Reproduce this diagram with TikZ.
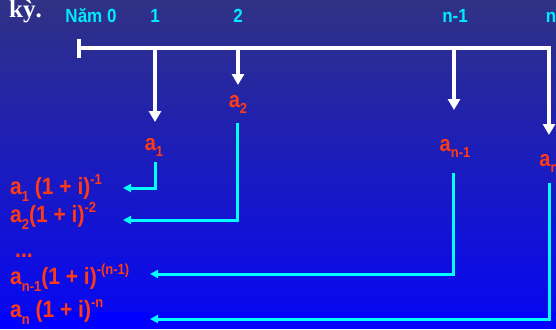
\documentclass[tikz,border=0pt]{standalone}
\usepackage{graphicx}
\usepackage{fontspec}
\setmainfont{Liberation Sans}
\newfontfamily\serifb{Liberation Serif}
\usetikzlibrary{arrows.meta}
\definecolor{bgtop}{RGB}{48,50,132}
\definecolor{bgbot}{RGB}{8,8,240}
\definecolor{lab}{RGB}{255,58,20}
\definecolor{cy}{RGB}{0,235,255}
\definecolor{ln}{RGB}{0,255,255}
\newcommand\sbt[1]{\raisebox{-0.3em}{\fontsize{13}{13}\selectfont #1}}
\newcommand\spt[1]{\raisebox{0.42em}{\fontsize{13}{13}\selectfont #1}}
\newcommand\tall[1]{\scalebox{1}[1.12]{#1}}
\begin{document}
\begin{tikzpicture}[x=1pt,y=-1pt,
  tl/.style={text=cy,font=\fontsize{17}{17}\selectfont\bfseries,anchor=base,inner sep=0},
  av/.style={text=lab,font=\fontsize{20}{20}\selectfont\bfseries,inner sep=0,anchor=base},
  pv/.style={text=lab,font=\fontsize{21}{21}\selectfont\bfseries,anchor=base west,inner sep=0},
  wline/.style={white,line width=4pt},
  warr/.style={white,line width=4pt,line join=miter,-{Triangle[width=12pt,length=11pt]}},
  carr/.style={ln,line width=3pt,line join=miter,-{Triangle[width=8pt,length=8pt]}}]
\shade[top color=bgtop,bottom color=bgbot] (0pt,0pt) rectangle (556pt,-312pt);
\fill[blue] (0pt,-312pt) rectangle (556pt,-329pt);
\useasboundingbox (0pt,0pt) rectangle (556pt,-329pt);
% header
\node[anchor=base west,text=white,font=\serifb\fontsize{25}{25}\selectfont\bfseries,inner sep=0] (ky) at (9,18) {kỳ.};
\node[tl] (t0) at (91,23) {\tall{Năm 0}};
\node[tl] (t1) at (155,23) {\tall{1}};
\node[tl] (t2) at (238,23) {\tall{2}};
\node[tl] (tn1) at (455,23) {\tall{n-1}};
\node[tl] (tn) at (551,23) {\tall{n}};
% timeline
\coordinate (s) at (79,48);
\coordinate (p1) at (155,48);
\coordinate (p2) at (238,48);
\coordinate (pn1) at (454,48);
\coordinate (pn) at (549,48);
\draw[wline] (79,39) -- (79,58);
\draw[warr] (s) -- (pn) -- (549,135);
\draw[warr] (p1) -- (155,122);
\draw[warr] (p2) -- (238,85);
\draw[warr] (pn1) -- (454,110);
% amounts
\node[av] (a1) at (154,150) {\tall{a\sbt{1}}};
\node[av] (a2) at (238,107) {\tall{a\sbt{2}}};
\node[av] (an1) at (455,151) {\tall{a\sbt{n-1}}};
\node[av] (an) at (549,166) {\tall{a\sbt{n}}};
% present values
\node[pv] (v1) at (10,194) {\tall{a\sbt{1} (1 + i)\spt{-1}}};
\node[pv] (v2) at (10,222) {\tall{a\sbt{2}(1 + i)\spt{-2}}};
\node[pv] (dots) at (15,257) {\tall{...}};
\node[pv] (vn1) at (10,284) {\tall{a\sbt{n-1}(1 + i)\spt{-(n-1)}}};
\node[pv] (vn) at (10,317) {\tall{a\sbt{n} (1 + i)\spt{-n}}};
% connectors
\coordinate (c1) at (155,188);
\coordinate (e1) at (123,188);
\coordinate (c2) at (237,220);
\coordinate (e2) at (123,220);
\coordinate (c3) at (453,274);
\coordinate (e3) at (150,274);
\coordinate (c4) at (549,319);
\coordinate (e4) at (150,319);
\draw[carr] (155,162) -- (c1) -- (e1);
\draw[carr] (237,123) -- (c2) -- (e2);
\draw[carr] (453,173) -- (c3) -- (e3);
\draw[carr] (549,183) -- (c4) -- (e4);
\end{tikzpicture}
\end{document}
